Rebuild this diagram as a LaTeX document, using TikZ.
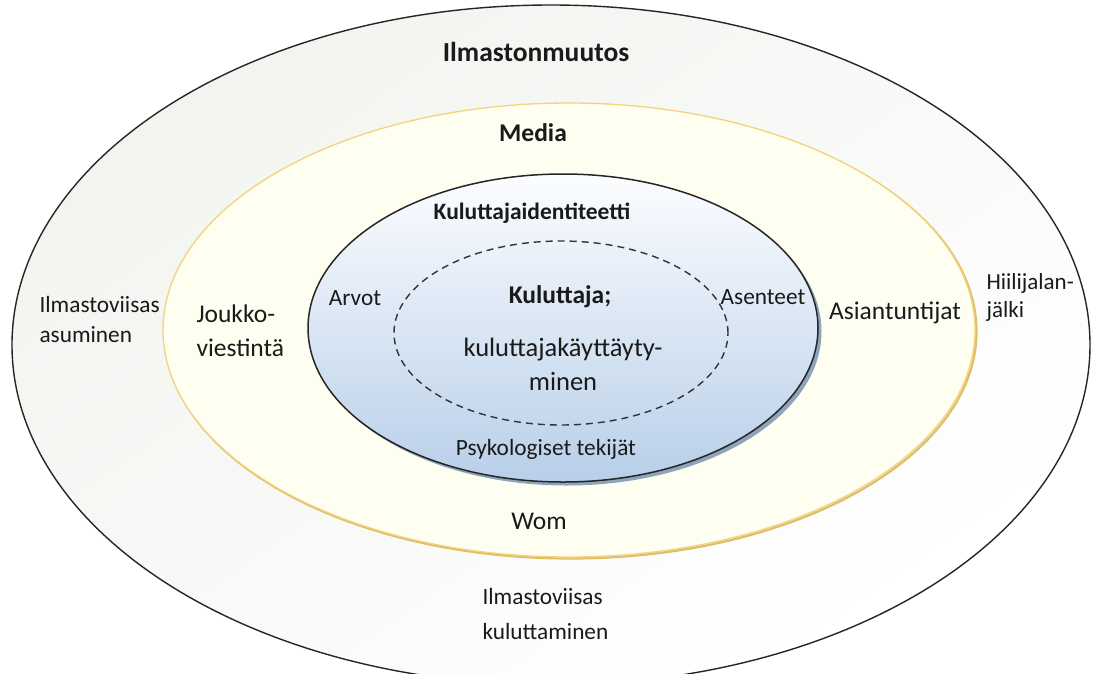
\documentclass[tikz,border=0pt]{standalone}
\usepackage{fontspec}
\setmainfont{Carlito}
\usetikzlibrary{shapes.geometric}
\definecolor{ringline}{HTML}{F5D27C}
\definecolor{ringshadow}{HTML}{DDBE6A}
\definecolor{ringfill}{HTML}{FEFEF1}
\definecolor{outerA}{HTML}{F1F4EF}
\definecolor{blueB}{HTML}{B8CFE9}
\definecolor{blueT}{HTML}{FCFDFF}
\definecolor{shadowc}{HTML}{8EA4BA}
\definecolor{txt}{HTML}{1A1A1A}
\tikzset{
  oval/.style={ellipse, inner sep=0pt, outer sep=0pt},
  big/.style={font=\fontsize{25.5}{34}\selectfont, text=txt, align=left},
  bigb/.style={font=\fontsize{27.5}{32}\selectfont\bfseries, text=txt},
  medb/.style={font=\fontsize{25.5}{32}\selectfont\bfseries, text=txt},
  small/.style={font=\fontsize{23.3}{30}\selectfont, text=txt, align=left},
  smallb/.style={font=\fontsize{23.5}{30}\selectfont\bfseries, text=txt},
}
\begin{document}
\begin{tikzpicture}[x=1pt,y=-1pt]
\useasboundingbox (0,0) rectangle (1101,673);
\fill[white] (0,0) rectangle (1101,673);
% outer
\node[oval, draw=black!85, line width=1.4pt, minimum width=1078pt, minimum height=680pt,
  shading=axis, top color=outerA, bottom color=white, shading angle=35] (outer) at (551,345) {};
% yellow ring with shadow
\node[oval, draw=ringshadow, line width=2.2pt, minimum width=812pt, minimum height=454pt] (mediashadow) at (570.5,331.5) {};
\node[oval, draw=ringline, line width=1.3pt, minimum width=812pt, minimum height=454pt,
  fill=ringfill] (media) at (569,330) {};
% shadow of inner
\node[oval, fill=shadowc, minimum width=510pt, minimum height=308pt] (shadow) at (566.5,331.5) {};
% inner
\node[oval, draw=black!85, line width=1.5pt, minimum width=510pt, minimum height=308pt,
  top color=blueT, bottom color=blueB] (inner) at (563,328) {};
% dashed
\node[oval, draw=black!80, dashed, dash pattern=on 7pt off 5pt, line width=1.4pt,
  minimum width=334pt, minimum height=184pt] (core) at (561,333) {};
% texts
\node[bigb] (t1) at (536,52) {Ilmastonmuutos};
\node[medb] (t2) at (533,133) {Media};
\node[smallb] (t3) at (532,213) {Kuluttajaidentiteetti};
\node[small] (t4) at (355,298) {Arvot};
\node[medb] (t5) at (560,297) {Kuluttaja;};
\node[small] (t6) at (763,297) {Asenteet};
\node[big, align=center, font=\fontsize{26.5}{34}\selectfont] (t7) at (563,364) {kuluttajakäyttäyty-\\minen};
\node[small] (t8) at (546,449) {Psykologiset tekijät};
\node[big, anchor=west] (t9) at (193,331) {Joukko-\\viestintä};
\node[big] (t10) at (895,313) {Asiantuntijat};
\node[small, anchor=west] (t11) at (36,319) {Ilmastoviisas\\asuminen};
\node[small, anchor=west, font=\fontsize{23}{28}\selectfont] (t12) at (983,297) {Hiilijalan-\\jälki};
\node[big] (t13) at (539,521) {Wom};
\node[small, anchor=west, font=\fontsize{23.3}{35}\selectfont] (t14) at (479,614) {Ilmastoviisas\\kuluttaminen};
\end{tikzpicture}
\end{document}
